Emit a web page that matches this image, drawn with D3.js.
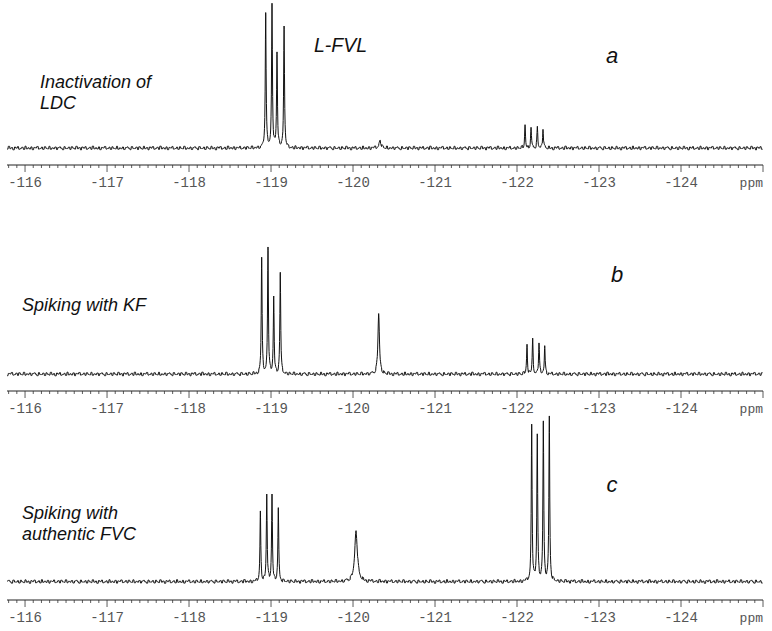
<!DOCTYPE html>
<html>
<head>
<meta charset="utf-8">
<script src="https://cdn.jsdelivr.net/npm/d3@7"></script>
<style>
  body { margin: 0; background: #fff; }
  svg { display: block; }
</style>
</head>
<body>
<svg id="chart" width="772" height="631"></svg>
<script>
// ppm axis
let ppmDomain = [-115.78, -125.0];
let majorTicks = [-116, -117, -118, -119, -120, -121, -122, -123, -124];

// peak lists per spectrum: ppm position, height (intensity), half width (ppm)
let peaksA = [
  [-118.935, 136, 0.006], [-119.012, 142, 0.006], [-119.073, 95, 0.006], [-119.159, 123, 0.006],
  [-120.33, 7, 0.015],
  [-122.098, 23, 0.006], [-122.171, 20, 0.006], [-122.248, 20, 0.006], [-122.317, 20, 0.006]
];
let peaksB = [
  [-118.886, 116, 0.006], [-118.963, 127, 0.006], [-119.033, 76, 0.006], [-119.113, 101, 0.006],
  [-120.313, 61, 0.011],
  [-122.122, 29, 0.006], [-122.191, 34, 0.006], [-122.268, 32, 0.006], [-122.338, 29, 0.006]
];
let peaksC = [
  [-118.87, 69, 0.006], [-118.948, 87, 0.006], [-119.012, 86, 0.006], [-119.089, 72, 0.006],
  [-120.037, 50, 0.02],
  [-122.179, 155, 0.006], [-122.247, 146, 0.006], [-122.321, 159, 0.006], [-122.394, 163, 0.006]
];

// baseline noise (hand typed, cycled)
let noise = [0.4, -0.6, 1.1, -0.9, 0.2, 0.8, -1.2, 0.5, -0.3, 1.3, -0.7, 0.1, -1.0, 0.9, 0.3,
  -0.5, 1.0, -1.3, 0.6, -0.2, 0.7, -0.8, 1.2, -0.4, 0.0, -1.1, 0.8, 0.4, -0.6, 1.0,
  -0.9, 0.3, 0.6, -1.2, 0.9, -0.1, 0.5, -0.7, 1.1, -0.3, -0.8, 0.2, 1.2, -1.0, 0.4];

let panels = [
  { peaks: peaksA, base: 148, axisY: 165, letter: "a", letterX: 612, letterY: 63 },
  { peaks: peaksB, base: 374, axisY: 391, letter: "b", letterX: 617, letterY: 282 },
  { peaks: peaksC, base: 581.5, axisY: 600, letter: "c", letterX: 612, letterY: 492 }
];

let svg = d3.select("#chart");
let x = d3.scaleLinear().domain(ppmDomain).range([7, 763]);

function spectrum(peaks, phase) {
  let pts = [];
  let step = 0.004;
  let grid = d3.range(ppmDomain[0], ppmDomain[1], -step);
  peaks.forEach(p => grid.push(p[0]));
  grid.sort((a, b) => b - a);
  grid.forEach(ppm => {
    let v = 0;
    peaks.forEach(p => {
      let d = (ppm - p[0]) / p[2];
      v += p[1] / (1 + d * d);
    });
    let px = x(ppm);
    let n = 1.4 * noise[(Math.round(px / 1.5) + phase) % noise.length];
    pts.push([ppm, v, n]);
  });
  return pts;
}

panels.forEach((pn, i) => {
  let y = d3.scaleLinear().domain([0, 170]).range([pn.base, pn.base - 170]);
  let data = spectrum(pn.peaks, i * 17);
  let line = d3.line().x(d => x(d[0])).y(d => y(d[1]) + d[2]);
  svg.append("path")
    .attr("d", line(data))
    .attr("fill", "none")
    .attr("stroke", "#111")
    .attr("stroke-width", 1);

  // axis
  let g = svg.append("g").attr("transform", `translate(0,${pn.axisY})`);
  g.append("line").attr("x1", 7).attr("x2", 763).attr("stroke", "#222").attr("stroke-width", 1);
  let minor = d3.range(-115.8, -125.05, -0.1).map(v => +v.toFixed(1));
  g.selectAll("line.minor").data(minor).enter().append("line")
    .attr("x1", d => x(d)).attr("x2", d => x(d))
    .attr("y1", 0).attr("y2", d => Number.isInteger(d) ? 7 : 3)
    .attr("stroke", "#333").attr("stroke-width", 0.8);
  g.selectAll("text.tick").data(majorTicks).enter().append("text")
    .attr("x", d => x(d)).attr("y", 22)
    .attr("text-anchor", "middle")
    .attr("font-family", "Courier New, Liberation Mono, monospace")
    .attr("font-size", 14)
    .attr("fill", "#555")
    .text(d => "-" + Math.abs(d));
  g.append("text")
    .attr("x", 763).attr("y", 22)
    .attr("text-anchor", "end")
    .attr("font-family", "Courier New, Liberation Mono, monospace")
    .attr("font-size", 13)
    .attr("fill", "#555")
    .text("ppm");

  svg.append("text")
    .attr("x", pn.letterX).attr("y", pn.letterY)
    .attr("text-anchor", "middle")
    .attr("font-family", "Liberation Sans, Arial, sans-serif")
    .attr("font-style", "italic")
    .attr("font-size", 22)
    .attr("fill", "#111")
    .text(pn.letter);
});

// annotations
let notes = [
  { lines: ["Inactivation of", "LDC"], x: 40, y: 88 },
  { lines: ["Spiking with KF"], x: 22, y: 311 },
  { lines: ["Spiking with", "authentic FVC"], x: 22, y: 519 }
];
notes.forEach(n => {
  let t = svg.append("text")
    .attr("font-family", "Liberation Sans, Arial, sans-serif")
    .attr("font-style", "italic")
    .attr("font-size", 18)
    .attr("fill", "#111");
  n.lines.forEach((l, k) => {
    t.append("tspan").attr("x", n.x).attr("y", n.y + k * 21).text(l);
  });
});

svg.append("text")
  .attr("x", 314).attr("y", 52)
  .attr("font-family", "Liberation Sans, Arial, sans-serif")
  .attr("font-style", "italic")
  .attr("font-size", 19.5)
  .attr("fill", "#111")
  .text("L-FVL");
</script>
</body>
</html>
